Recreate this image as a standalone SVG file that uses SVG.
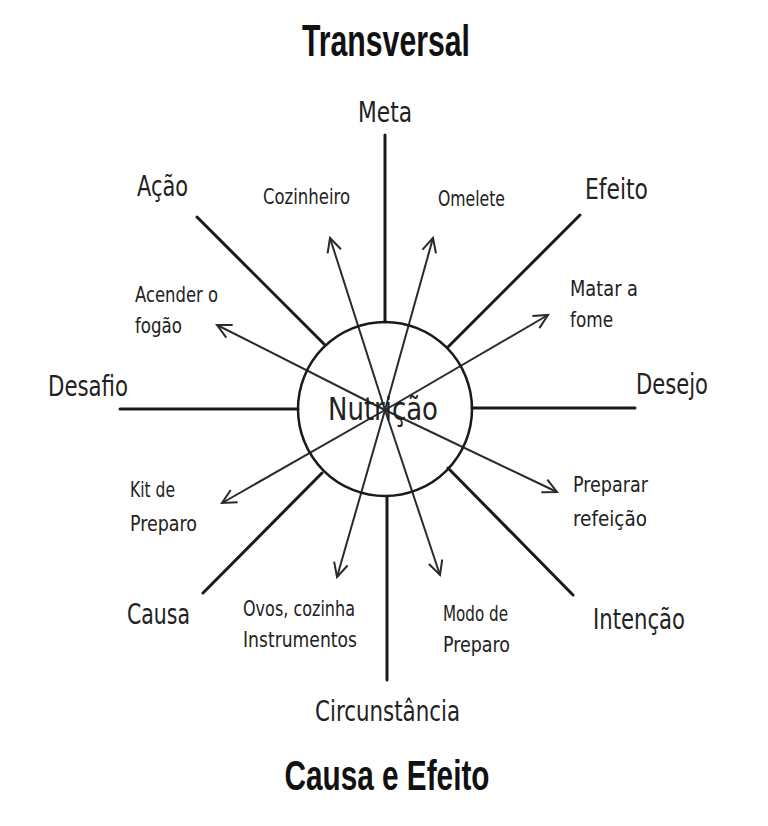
<svg xmlns="http://www.w3.org/2000/svg" width="768" height="826" viewBox="0 0 768 826">
<defs>
<style>
.title{font-family:"Liberation Sans",Arial,sans-serif;font-weight:bold;fill:#111;text-anchor:middle}
.lbl{font-family:"DejaVu Sans Condensed","DejaVu Sans",sans-serif;font-stretch:condensed;fill:#222}
.big{font-size:28px}
.sm{font-size:21px}
.spoke{stroke:#1a1a1a;stroke-width:3;fill:none;stroke-linecap:round}
.arrow{stroke:#2a2a2a;stroke-width:2;fill:none;marker-end:url(#head)}
</style>
<marker id="head" viewBox="-16 -9 18 18" refX="0" refY="0" markerWidth="18" markerHeight="18" markerUnits="userSpaceOnUse" orient="auto">
<path d="M-14,-7 L0,0 L-14,7" fill="none" stroke="#2a2a2a" stroke-width="2" stroke-linejoin="miter"/>
</marker>
</defs>
<rect width="768" height="826" fill="#fff"/>
<text class="title" x="386" y="56" font-size="44" textLength="168" lengthAdjust="spacingAndGlyphs">Transversal</text>
<text class="title" x="387" y="790" font-size="42" textLength="205" lengthAdjust="spacingAndGlyphs">Causa e Efeito</text>
<g id="connectors">
<line class="spoke" x1="385" y1="135" x2="385" y2="322"/>
<line class="spoke" x1="387" y1="497" x2="387" y2="680"/>
<line class="spoke" x1="120" y1="409" x2="298" y2="409"/>
<line class="spoke" x1="472" y1="408" x2="635" y2="408"/>
<line class="spoke" x1="197" y1="217" x2="324" y2="344"/>
<line class="spoke" x1="580" y1="215" x2="448" y2="347"/>
<line class="spoke" x1="203" y1="593" x2="322" y2="473"/>
<line class="spoke" x1="448" y1="468" x2="573" y2="595"/>
<line class="arrow" x1="385" y1="410" x2="330" y2="238"/>
<line class="arrow" x1="385" y1="410" x2="433" y2="238"/>
<line class="arrow" x1="385" y1="410" x2="548" y2="315"/>
<line class="arrow" x1="385" y1="410" x2="217" y2="325"/>
<line class="arrow" x1="385" y1="410" x2="222" y2="503"/>
<line class="arrow" x1="385" y1="410" x2="337" y2="577"/>
<line class="arrow" x1="385" y1="410" x2="440" y2="575"/>
<line class="arrow" x1="385" y1="410" x2="557" y2="492"/>
</g>
<g id="nutricao">
<circle cx="385" cy="409" r="87" fill="none" stroke="#1a1a1a" stroke-width="2.5"/>
<text class="lbl" x="328" y="420" font-size="32" textLength="110" lengthAdjust="spacingAndGlyphs">Nutrição</text>
</g>
<g id="meta"><text class="lbl big" x="358" y="122" textLength="54" lengthAdjust="spacingAndGlyphs">Meta</text></g>
<g id="acao"><text class="lbl big" x="137" y="196" textLength="51" lengthAdjust="spacingAndGlyphs">Ação</text></g>
<g id="efeito"><text class="lbl big" x="585" y="199" textLength="63" lengthAdjust="spacingAndGlyphs">Efeito</text></g>
<g id="desafio"><text class="lbl big" x="48" y="396" textLength="80" lengthAdjust="spacingAndGlyphs">Desafio</text></g>
<g id="desejo"><text class="lbl big" x="636" y="394" textLength="72" lengthAdjust="spacingAndGlyphs">Desejo</text></g>
<g id="causa"><text class="lbl big" x="127" y="624" textLength="63" lengthAdjust="spacingAndGlyphs">Causa</text></g>
<g id="intencao"><text class="lbl big" x="593" y="629" textLength="92" lengthAdjust="spacingAndGlyphs">Intenção</text></g>
<g id="circunstancia"><text class="lbl big" x="315" y="721" textLength="145" lengthAdjust="spacingAndGlyphs">Circunstância</text></g>
<g id="cozinheiro"><text class="lbl sm" x="263" y="204" textLength="87" lengthAdjust="spacingAndGlyphs">Cozinheiro</text></g>
<g id="omelete"><text class="lbl sm" x="438" y="206" textLength="67" lengthAdjust="spacingAndGlyphs">Omelete</text></g>
<g id="acender"><text class="lbl sm" x="135" y="302" textLength="83" lengthAdjust="spacingAndGlyphs">Acender o</text><text class="lbl sm" x="135" y="333" textLength="47" lengthAdjust="spacingAndGlyphs">fogão</text></g>
<g id="matar"><text class="lbl sm" x="570" y="296" textLength="68" lengthAdjust="spacingAndGlyphs">Matar a</text><text class="lbl sm" x="570" y="327" textLength="43" lengthAdjust="spacingAndGlyphs">fome</text></g>
<g id="kit"><text class="lbl sm" x="130" y="497" textLength="45" lengthAdjust="spacingAndGlyphs">Kit de</text><text class="lbl sm" x="130" y="531" textLength="67" lengthAdjust="spacingAndGlyphs">Preparo</text></g>
<g id="ovos"><text class="lbl sm" x="243" y="616" textLength="112" lengthAdjust="spacingAndGlyphs">Ovos, cozinha</text><text class="lbl sm" x="243" y="647" textLength="114" lengthAdjust="spacingAndGlyphs">Instrumentos</text></g>
<g id="modo"><text class="lbl sm" x="443" y="621" textLength="65" lengthAdjust="spacingAndGlyphs">Modo de</text><text class="lbl sm" x="443" y="652" textLength="67" lengthAdjust="spacingAndGlyphs">Preparo</text></g>
<g id="preparar"><text class="lbl sm" x="573" y="492" textLength="75" lengthAdjust="spacingAndGlyphs">Preparar</text><text class="lbl sm" x="573" y="526" textLength="74" lengthAdjust="spacingAndGlyphs">refeição</text></g>
</svg>
